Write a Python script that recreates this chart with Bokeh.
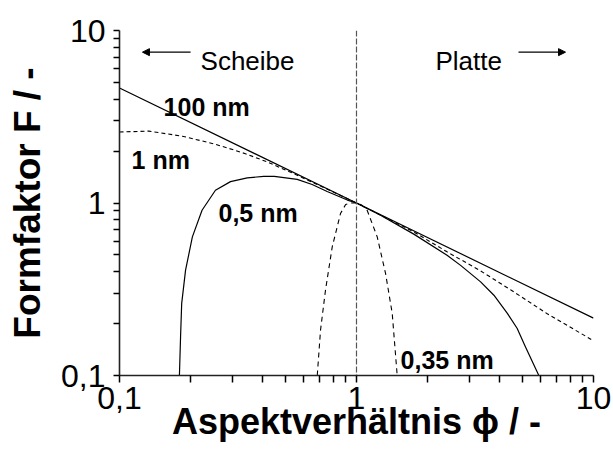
from bokeh.plotting import figure
from bokeh.models import (Label, Span, Arrow, NormalHead, FixedTicker,
                          CustomJSTickFormatter, Range1d)
from bokeh.embed import file_html
from bokeh.resources import INLINE

# Form factor F versus aspect ratio phi for several particle sizes
phi_100nm = [0.1, 1.0, 10.0]
F_100nm = [4.64, 1.0, 0.215]

phi_1nm = [0.1, 0.133, 0.184, 0.22, 0.254, 0.30, 0.34, 0.42, 0.54, 0.75, 1.0,
           1.263, 1.745, 2.41, 3.34, 4.5, 6.38, 10.0]
F_1nm = [2.58, 2.61, 2.44, 2.30, 2.19, 2.04, 1.93, 1.73, 1.485, 1.205, 1.0,
         0.851, 0.68, 0.521, 0.404, 0.312, 0.228, 0.159]

phi_05nm = [0.179, 0.181, 0.183, 0.190, 0.203, 0.223, 0.254, 0.294, 0.346,
            0.406, 0.45, 0.562, 0.65, 0.752, 0.915, 1.0, 1.263, 1.745, 2.41,
            2.75, 3.34, 3.80, 4.33, 4.76, 5.16, 5.88]
F_05nm = [0.1, 0.168, 0.262, 0.408, 0.636, 0.908, 1.185, 1.33, 1.40,
          1.425, 1.425, 1.37, 1.28, 1.165, 1.04, 1.0, 0.85, 0.66, 0.498,
          0.435, 0.349, 0.292, 0.229, 0.188, 0.147, 0.1]

phi_035nm = [0.683, 0.705, 0.740, 0.790, 0.856, 0.90, 0.95, 1.0, 1.05, 1.109,
             1.223, 1.326, 1.415, 1.485]
F_035nm = [0.1, 0.183, 0.313, 0.557, 0.869, 0.98, 1.0, 1.0, 0.975, 0.908,
           0.636, 0.391, 0.229, 0.1]

# decade ticks carry labels, the 2..9 steps in between are unlabeled
decade_ticks = [0.1, 1.0, 10.0]
tick_labels = ["0,1", "1", "10"]
step_ticks = [0.2, 0.3, 0.4, 0.5, 0.6, 0.7, 0.8, 0.9,
              2.0, 3.0, 4.0, 5.0, 6.0, 7.0, 8.0, 9.0]

FONT = "Liberation Sans"

p = figure(width=613, height=455, x_axis_type="log", y_axis_type="log",
           x_range=Range1d(0.1, 10), y_range=Range1d(0.1, 10),
           output_backend="svg", toolbar_location=None,
           min_border_left=119, min_border_right=20,
           min_border_top=30, min_border_bottom=80)
p.outline_line_color = None
p.xgrid.visible = False
p.ygrid.visible = False
p.background_fill_color = "white"
p.border_fill_color = "white"

fmt = CustomJSTickFormatter(args=dict(major=decade_ticks, names=tick_labels), code="""
    for (let i = 0; i < major.length; i++) {
        if (Math.abs(major[i] - tick) < 1e-6 * major[i]) { return names[i]; }
    }
    return "";
""")

for ax in (p.xaxis[0], p.yaxis[0]):
    ax.ticker = FixedTicker(ticks=sorted(decade_ticks + step_ticks))
    ax.formatter = fmt
    ax.axis_line_color = "#222222"
    ax.axis_line_width = 1.6
    ax.major_tick_line_color = "black"
    ax.major_tick_line_width = 1.5
    ax.major_tick_in = 0
    ax.minor_tick_line_color = None
    ax.major_label_text_font = FONT
    ax.major_label_text_font_size = "32px"
    ax.major_label_text_color = "black"
    ax.axis_label_text_font = FONT
    ax.axis_label_text_font_style = "bold"
    ax.axis_label_text_color = "black"

p.xaxis.major_tick_out = 7
p.xaxis.major_label_standoff = 4
p.xaxis.axis_label = "Aspektverhältnis ϕ / -"
p.xaxis.axis_label_text_font_size = "36px"
p.xaxis.axis_label_standoff = -11

p.yaxis.major_tick_out = 6
p.yaxis.major_label_standoff = 8
p.yaxis.axis_label = "Formfaktor F / -"
p.yaxis.axis_label_text_font_size = "37px"
p.yaxis.axis_label_standoff = 10

# boundary between disc (Scheibe) and platelet (Platte)
p.add_layout(Span(location=1.0, dimension="height", line_color="#555555",
                  line_width=1.2, line_dash="6 2"))

p.line(phi_100nm, F_100nm, line_color="black", line_width=1.2)
p.line(phi_1nm, F_1nm, line_color="black", line_width=1.1, line_dash="4 3")
p.line(phi_05nm, F_05nm, line_color="black", line_width=1.2)
p.line(phi_035nm, F_035nm, line_color="black", line_width=1.1, line_dash="5 4")

def add_text(x, y, text, size, bold=False, **kw):
    p.add_layout(Label(x=x, y=y, text=text, text_font=FONT,
                       text_font_size=size,
                       text_font_style="bold" if bold else "normal",
                       text_color="black", text_baseline="alphabetic", **kw))

add_text(0.1535, 3.58, "100 nm", "25px", bold=True)
add_text(0.1124, 1.77, "1 nm", "25px", bold=True)
add_text(0.2617, 0.872, "0,5 nm", "25px", bold=True)
add_text(1.534, 0.1229, "0,35 nm", "25px", bold=True)
add_text(0.2198, 6.70, "Scheibe", "26px")
add_text(2.154, 6.70, "Platte", "26px")

p.add_layout(Arrow(end=NormalHead(size=7, fill_color="black", line_color="black"),
                   x_start=0.1995, y_start=7.49, x_end=0.125, y_end=7.49,
                   line_color="black", line_width=1.1))
p.add_layout(Arrow(end=NormalHead(size=7, fill_color="black", line_color="black"),
                   x_start=4.826, y_start=7.49, x_end=7.62, y_end=7.49,
                   line_color="black", line_width=1.1))

open("out.html", "w").write(file_html(p, INLINE))
